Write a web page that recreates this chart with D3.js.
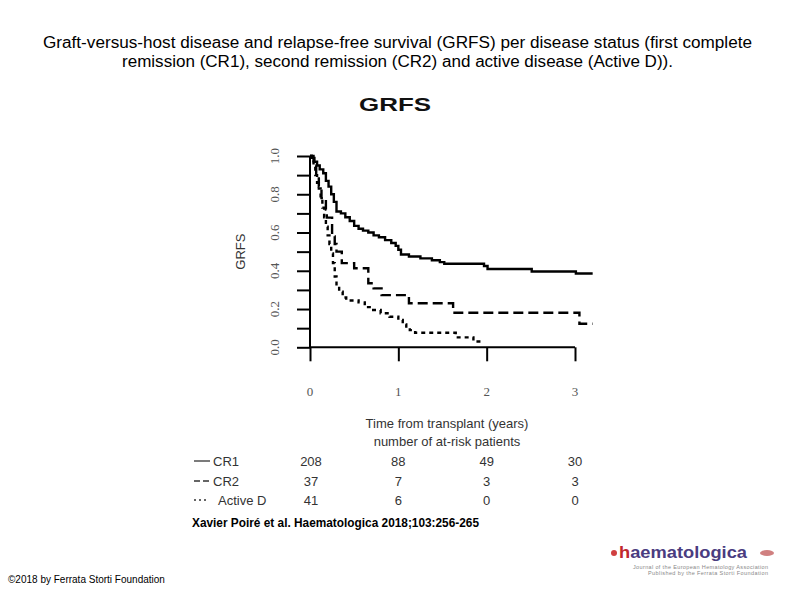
<!DOCTYPE html>
<html><head><meta charset="utf-8">
<script src="https://cdn.jsdelivr.net/npm/d3@7"></script>
<style>body{margin:0;background:#fff}svg{display:block}</style>
</head><body>
<svg id="c" width="794" height="595"></svg>
<script>
const titleLines = ["Graft-versus-host disease and relapse-free survival (GRFS) per disease status (first complete",
  "remission (CR1), second remission (CR2) and active disease (Active D))."];
const titleWidths = [709, 551];
const seriesNames = ["CR1", "CR2", "Active D"];
const cr1Time = [0,0.02,0.05,0.08,0.11,0.15,0.18,0.21,0.24,0.27,0.30,0.35,0.40,0.45,0.50,0.55,0.60,0.66,0.72,0.78,0.85,0.92,0.97,1.00,1.03,1.12,1.25,1.38,1.47,1.52,1.97,2.01,2.51,3.01,3.2];
const cr1Surv = [1.0,0.99,0.97,0.95,0.93,0.91,0.87,0.84,0.80,0.76,0.71,0.70,0.68,0.66,0.635,0.62,0.61,0.60,0.585,0.575,0.56,0.545,0.53,0.51,0.485,0.475,0.465,0.455,0.445,0.437,0.425,0.409,0.396,0.386,0.386];
const cr2Time = [0,0.04,0.07,0.10,0.13,0.18,0.19,0.25,0.28,0.30,0.36,0.50,0.66,0.72,0.81,1.12,1.62,3.05,3.2];
const cr2Surv = [1.0,0.95,0.89,0.84,0.78,0.72,0.678,0.58,0.54,0.50,0.44,0.413,0.335,0.308,0.273,0.23,0.181,0.123,0.123];
const actTime = [0,0.02,0.04,0.06,0.08,0.10,0.12,0.14,0.16,0.18,0.20,0.22,0.24,0.26,0.28,0.30,0.33,0.37,0.41,0.55,0.62,0.70,0.80,0.90,1.00,1.05,1.09,1.13,1.19,1.65,1.85,1.96];
const actSurv = [1.0,0.976,0.95,0.90,0.86,0.83,0.78,0.73,0.68,0.63,0.585,0.54,0.49,0.44,0.37,0.32,0.29,0.26,0.245,0.235,0.21,0.195,0.178,0.16,0.143,0.12,0.10,0.09,0.076,0.052,0.03,0.03];
const xTicks = [0,1,2,3];
const yTicks = [0,0.2,0.4,0.6,0.8,1.0];
const yMinorTicks = [0,0.1,0.2,0.3,0.4,0.5,0.6,0.7,0.8,0.9,1.0];
const atRisk = [[208,88,49,30],[37,7,3,3],[41,6,0,0]];

const svg = d3.select("#c");
const x = d3.scaleLinear().domain([0,3]).range([310,575]);
const y = d3.scaleLinear().domain([0,1]).range([347.3,156]);
const sans = "Liberation Sans, Arial, sans-serif";
const serif = "Liberation Serif, Times New Roman, serif";

// title
svg.append("g").selectAll("text").data(titleLines).join("text")
  .attr("x",397.5).attr("y",(d,i)=>47.5+i*19).attr("text-anchor","middle")
  .attr("font-family",sans).attr("font-size",16).attr("fill","#000")
  .attr("textLength",(d,i)=>titleWidths[i]).attr("lengthAdjust","spacingAndGlyphs")
  .text(d=>d);

// plot title
svg.append("text").attr("x",395).attr("y",111).attr("text-anchor","middle")
  .attr("font-family",sans).attr("font-weight","bold").attr("font-size",19)
  .attr("textLength",72).attr("lengthAdjust","spacingAndGlyphs").attr("fill","#111").text("GRFS");

// y axis
const yAxis = d3.axisLeft(y).tickValues(yMinorTicks).tickSize(13).tickFormat("");
const gy = svg.append("g").attr("transform","translate(310,0)").call(yAxis);
gy.select(".domain").remove();
gy.selectAll(".tick line").attr("stroke","#000").attr("stroke-width",2);
svg.append("line").attr("x1",310).attr("x2",310).attr("y1",y(1)).attr("y2",y(0)).attr("stroke","#000").attr("stroke-width",2);
svg.append("g").selectAll("text").data(yTicks).join("text")
  .attr("transform",d=>`translate(279,${y(d)}) rotate(-90)`).attr("text-anchor","middle")
  .attr("font-family",serif).attr("font-size",13).attr("fill","#555")
  .text(d=>d.toFixed(1));
svg.append("text").attr("transform",`translate(245,${y(0.5)}) rotate(-90)`).attr("text-anchor","middle")
  .attr("font-family",sans).attr("font-size",13).attr("fill","#333").text("GRFS");

// x axis
const xAxis = d3.axisBottom(x).tickValues(xTicks).tickSize(14).tickFormat("");
const gx = svg.append("g").attr("transform",`translate(0,${y(0)})`).call(xAxis);
gx.select(".domain").remove();
gx.selectAll(".tick line").attr("stroke","#000").attr("stroke-width",2);
svg.append("line").attr("x1",x(0)).attr("x2",x(3)).attr("y1",y(0)).attr("y2",y(0)).attr("stroke","#000").attr("stroke-width",2);
svg.append("g").selectAll("text").data(xTicks).join("text")
  .attr("x",d=>x(d)).attr("y",396).attr("text-anchor","middle")
  .attr("font-family",serif).attr("font-size",13).attr("fill","#555")
  .text(d=>d);

// curves
const dashes = [null,"10,5","4,4"];
const series = [[cr1Time,cr1Surv],[cr2Time,cr2Surv],[actTime,actSurv]];
const line = d3.line().x(d=>x(d[0])).y(d=>y(d[1])).curve(d3.curveStepAfter);
series.forEach((s,i)=>{
  const pts = s[0].map((t,j)=>[t,s[1][j]]);
  svg.append("path").attr("d",line(pts)).attr("fill","none").attr("stroke","#000")
    .attr("stroke-width",2.4).attr("stroke-dasharray",dashes[i]);
});

// risk table
svg.append("text").attr("x",447).attr("y",428).attr("text-anchor","middle").attr("font-family",sans)
  .attr("font-size",13).attr("fill","#333").text("Time from transplant (years)");
svg.append("text").attr("x",447).attr("y",446).attr("text-anchor","middle").attr("font-family",sans)
  .attr("font-size",13).attr("fill","#333").text("number of at-risk patients");
const rowY = [461,481,500];
const legDash = [null,"6,3","2,3"];
seriesNames.forEach((n,i)=>{
  svg.append("line").attr("x1",194).attr("x2",i==2?208:210).attr("y1",rowY[i]).attr("y2",rowY[i])
    .attr("stroke","#333").attr("stroke-width",1.3).attr("stroke-dasharray",legDash[i]);
  svg.append("text").attr("x",i==2?218:213).attr("y",rowY[i]+4.5).attr("font-family",sans)
    .attr("font-size",13).attr("fill","#333").text(n);
  svg.append("g").selectAll("text").data(atRisk[i]).join("text")
    .attr("x",(d,j)=>x(xTicks[j])+(j==0?1:0)).attr("y",rowY[i]+4.5).attr("text-anchor","middle")
    .attr("font-family",sans).attr("font-size",13).attr("fill","#333").text(d=>d);
});

// citation
svg.append("text").attr("x",192).attr("y",527).attr("font-family",sans).attr("font-size",12)
  .attr("font-weight",600).attr("textLength",287).attr("lengthAdjust","spacingAndGlyphs")
  .attr("fill","#000").text("Xavier Poiré et al. Haematologica 2018;103:256-265");
svg.append("text").attr("x",8).attr("y",583).attr("font-family",sans).attr("font-size",10)
  .attr("fill","#000").text("©2018 by Ferrata Storti Foundation");

// logo
svg.append("circle").attr("cx",614).attr("cy",553).attr("r",3).attr("fill","#d04040");
const logo = svg.append("text").attr("x",619).attr("y",558).attr("font-family",sans).attr("font-weight","bold")
  .attr("font-size",17).attr("textLength",128).attr("lengthAdjust","spacingAndGlyphs");
logo.append("tspan").attr("fill","#c0282d").text("h");
logo.append("tspan").attr("fill","#4a3c80").text("aematologica");
svg.append("text").attr("x",633).attr("y",568.5).attr("font-family",sans).attr("font-size",5.5).attr("fill","#888")
  .attr("textLength",135).text("Journal of the European Hematology Association");
svg.append("text").attr("x",648).attr("y",574.5).attr("font-family",sans).attr("font-size",5.5).attr("fill","#888")
  .attr("textLength",120).text("Published by the Ferrata Storti Foundation");
svg.append("ellipse").attr("cx",767).attr("cy",553).attr("rx",7).attr("ry",3).attr("fill","#d08080");
</script>
</body></html>
